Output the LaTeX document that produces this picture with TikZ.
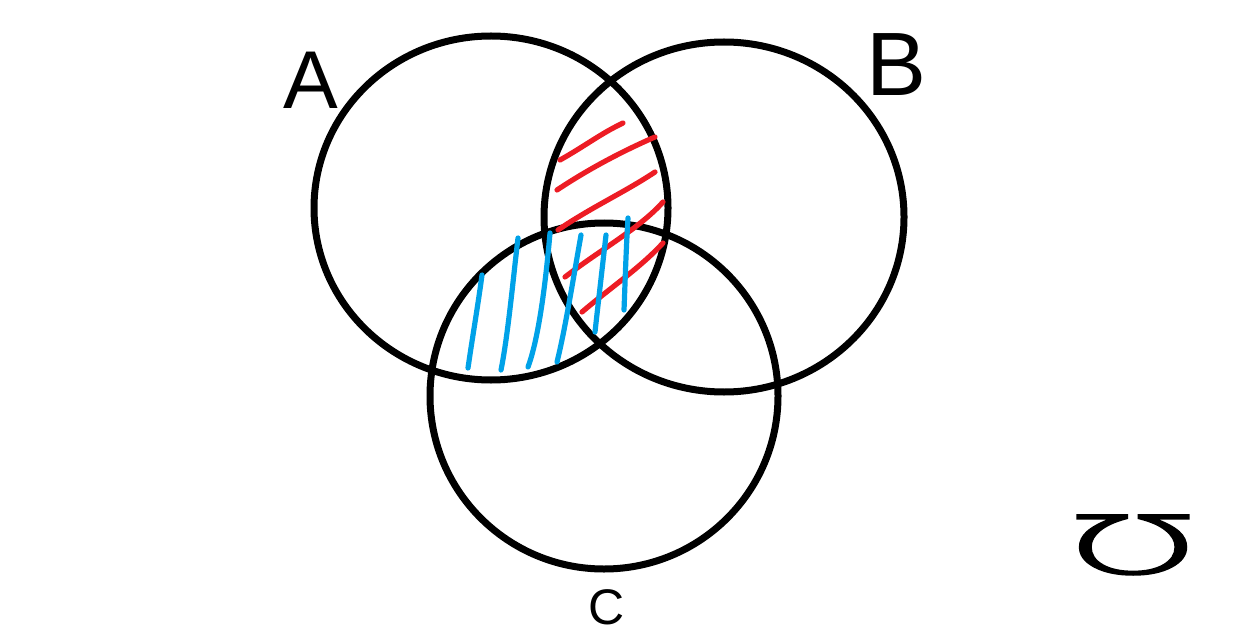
\documentclass[tikz,border=0pt]{standalone}
\usepackage{fontspec}
\setmainfont{Liberation Sans}
\newfontfamily\symfont[FakeBold=2.5]{DejaVu Sans ExtraLight}
\definecolor{hred}{RGB}{237,28,36}
\definecolor{hblue}{RGB}{0,162,232}
\tikzset{
  setline/.style={line width=3.5pt, draw=black},
  redhatch/.style={line width=2.6pt, draw=hred, line cap=round},
  bluehatch/.style={line width=2.6pt, draw=hblue, line cap=round},
  setlabel/.style={inner sep=0pt, text=black}
}
\begin{document}
\begin{tikzpicture}[x=0.5pt,y=-0.5pt]
\useasboundingbox[fill=white] (0,0) rectangle (1256,636);
% circles
\draw[setline] (491,208) ellipse [x radius=88.5pt, y radius=86pt];
\draw[setline] (724,217) ellipse [x radius=90pt, y radius=87.5pt];
\draw[setline] (604,396) ellipse [x radius=87pt, y radius=86.5pt];
% red hatching
\draw[redhatch] (560,160) .. controls (585,146) and (600,134) .. (623,123);
\draw[redhatch] (557,190) .. controls (590,168) and (625,150) .. (655,137);
\draw[redhatch] (558,230) .. controls (590,208) and (625,192) .. (655,172);
\draw[redhatch] (565,277) .. controls (600,250) and (640,228) .. (663,202);
\draw[redhatch] (582,312) .. controls (610,288) and (640,268) .. (663,243);
% blue hatching
\draw[bluehatch] (482,275) .. controls (478,305) and (472,340) .. (468,368);
\draw[bluehatch] (518,238) .. controls (513,280) and (508,335) .. (501,370);
\draw[bluehatch] (550,233) .. controls (545,290) and (538,340) .. (528,367);
\draw[bluehatch] (581,235) .. controls (573,280) and (565,330) .. (557,362);
\draw[bluehatch] (606,235) .. controls (602,270) and (598,305) .. (595,332);
\draw[bluehatch] (628,218) .. controls (626,250) and (625,285) .. (624,310);
% labels
\node[setlabel, font=\fontsize{41}{44}\selectfont] (la) at (311,80) {A};
\node[setlabel, font=\fontsize{45}{48}\selectfont] (lb) at (896,65) {B};
\node[setlabel, font=\fontsize{25}{28}\selectfont] (lc) at (607,607) {C};
\node[setlabel, font=\symfont\fontsize{40}{44}\selectfont] (lu) at (1133,545) {\scalebox{2.1}[1]{℧}};
\end{tikzpicture}
\end{document}
